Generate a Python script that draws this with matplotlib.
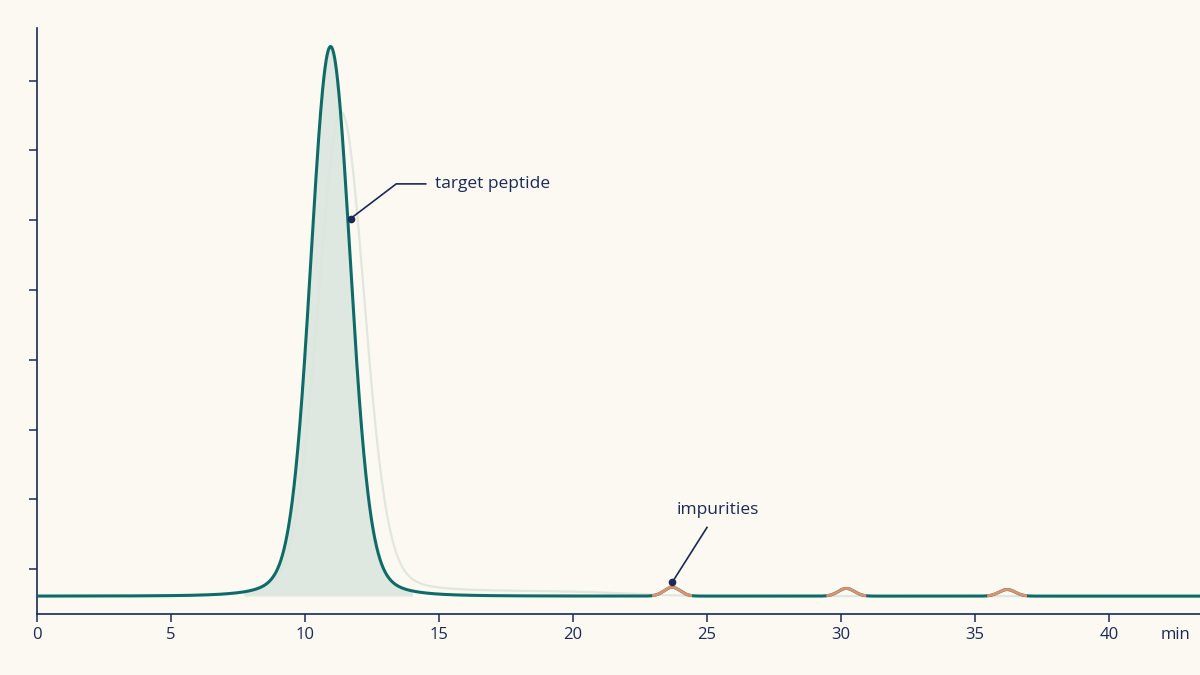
import numpy as np
import matplotlib.pyplot as plt

# retention times (min)
x_ticks = [0, 5, 10, 15, 20, 25, 30, 35, 40]
# main peak: center, height, width (sigma), tail width
main_peak = (10.95, 100.0, 0.72, 1.6)
# faint "previous run" peak, slightly later and broader
ghost_peak = (11.35, 88.0, 0.85, 1.8)
ghost_plateau = 0.9
# impurity peaks: center, height, sigma
impurities = [(23.7, 1.6, 0.3), (30.2, 1.4, 0.3), (36.2, 1.2, 0.3)]
fill_range = (7.7, 14.0)

BG = "#fcf9f2"
TEAL = "#0e6b68"
NAVY = "#1b2a55"
ORANGE = "#e0936a"


def peak(t, c, h, s, tail):
    g = np.exp(-0.5 * ((t - c) / s) ** 2)
    lor = 1.0 / (1.0 + ((t - c) / tail) ** 2) ** 2
    return h * (0.8 * g + 0.2 * lor)


XMAX = 43.4
t = np.linspace(0, XMAX, 4000)
y = peak(t, *main_peak)
for c, h, s in impurities:
    y = y + h * np.exp(-0.5 * ((t - c) / s) ** 2)

ghost = peak(t, *ghost_peak) + ghost_plateau / (1 + np.exp(-(t - 12.8) / 0.5)) / (1 + np.exp((t - 22) / 1.0))

fig = plt.figure(figsize=(12, 6.75), dpi=100, facecolor=BG)
ax = fig.add_axes([0.031, 0.09, 0.969, 0.868], facecolor=BG)

ax.plot(t, ghost, color="#e2e6e0", lw=1.6, zorder=1)
m = (t >= fill_range[0]) & (t <= fill_range[1])
ax.fill_between(t[m], 0, y[m], color="#dbe6df", alpha=0.9, lw=0, zorder=2)
ax.plot(t, y, color=TEAL, lw=2.2, zorder=3)
for c, h, s in impurities:
    mm = (t > c - 0.75) & (t < c + 0.75)
    ax.plot(t[mm], y[mm], color=ORANGE, lw=2.0, zorder=4, solid_capstyle="butt")

# annotations
ax.plot([11.7], [68.7], "o", color=NAVY, ms=4.5, zorder=5)
ax.plot([11.7, 13.4, 14.5], [68.7, 75, 75], color=NAVY, lw=1.2, zorder=5)
ax.text(14.85, 75, "target peptide", color=NAVY, fontsize=12.5, va="center", family="Open Sans")
ax.plot([23.7], [2.5], "o", color=NAVY, ms=4.5, zorder=5)
ax.plot([23.7, 25.0], [2.5, 12.5], color=NAVY, lw=1.2, zorder=5)
ax.text(25.4, 15.6, "impurities", color=NAVY, fontsize=12.5, va="center", ha="center", family="Open Sans")

ax.set_xlim(0, XMAX)
ax.set_ylim(-3.3, 103.3)
ax.set_xticks(x_ticks)
ax.set_xticklabels([str(v) for v in x_ticks])
ax.set_yticks([4.9 + 12.7 * i for i in range(8)])
ax.set_yticklabels([])
ax.tick_params(colors=NAVY, labelcolor=NAVY, labelsize=12, length=6, width=1.1)
for sp in ["top", "right"]:
    ax.spines[sp].set_visible(False)
for sp in ["left", "bottom"]:
    ax.spines[sp].set_color(NAVY)
    ax.spines[sp].set_linewidth(1.2)
for lab in ax.get_xticklabels():
    lab.set_family("Open Sans")
ax.text(42.5, -5.6, "min", color=NAVY, fontsize=12, ha="center", va="top", family="Open Sans")

fig.savefig("out.png", dpi=100, facecolor=BG)
